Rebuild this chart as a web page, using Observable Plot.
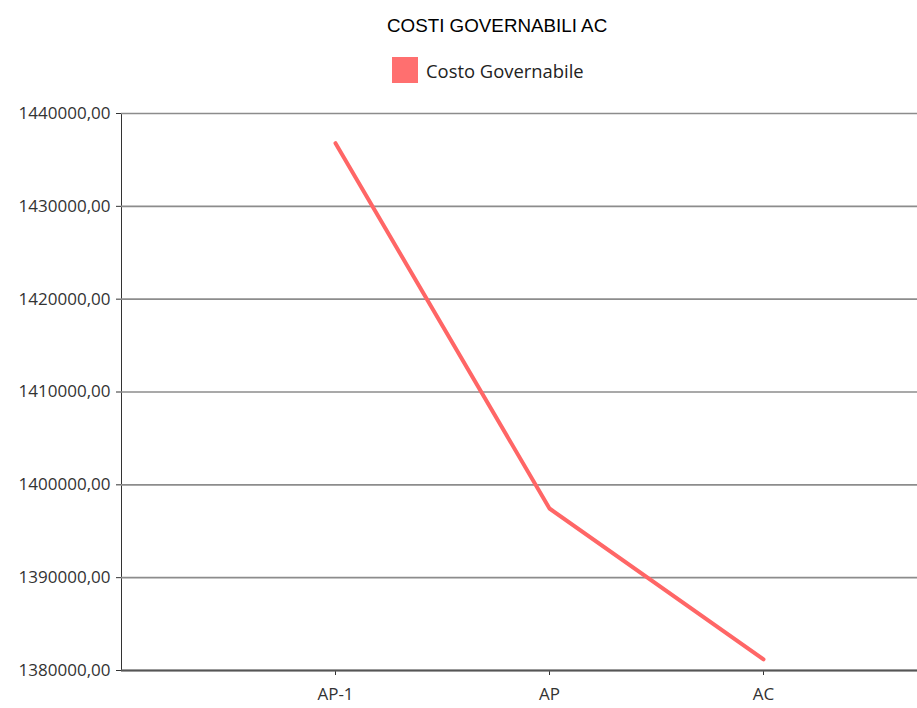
<!DOCTYPE html>
<html>
<head>
<meta charset="utf-8">
<script src="https://cdn.jsdelivr.net/npm/d3@7"></script>
<script src="https://cdn.jsdelivr.net/npm/@observablehq/plot@0.6"></script>
<style>
  html, body { margin: 0; padding: 0; background: #fff; }
  #wrap { width: 917px; }
  #head { position: relative; height: 100px; }
  #title { position: absolute; top: 15px; left: 387px; white-space: nowrap;
           font-family: "Liberation Sans", Arial, sans-serif; font-size: 18.8px; color: #000; }
  #legend { position: absolute; top: 57px; left: 392px; display: flex; align-items: center;
            font-family: "Open Sans", sans-serif; font-size: 18.4px; color: #222; }
  #legend .sw { width: 26px; height: 26px; background: #ff6f6f; margin-right: 8px; }
</style>
</head>
<body>
<div id="wrap">
  <div id="head">
    <div id="title"></div>
    <div id="legend"><div class="sw"></div><span id="legtext"></span></div>
  </div>
  <div id="chart"></div>
</div>
<script>
const title = "COSTI GOVERNABILI AC";
const seriesName = "Costo Governabile";
const categories = ["AP-1", "AP", "AC"];
const values = [1436800, 1397450, 1381200];
const yTicks = [1380000, 1390000, 1400000, 1410000, 1420000, 1430000, 1440000];

document.getElementById("title").textContent = title;
document.getElementById("legtext").textContent = seriesName;

const data = categories.map((c, i) => ({cat: c, value: values[i]}));
const fmt = d => d.toFixed(2).replace(".", ",");

const chart = Plot.plot({
  width: 917,
  height: 608,
  marginTop: 13,
  marginBottom: 38,
  marginLeft: 121,
  marginRight: 0,
  style: {fontFamily: "Open Sans, sans-serif", fontSize: "17px", color: "#333", background: "#fff"},
  x: {type: "point", domain: categories, range: [335, 763], padding: 0, label: null,
      tickSize: 5, tickPadding: 12, line: true},
  y: {domain: [1380000, 1440000], ticks: yTicks, tickFormat: fmt, label: null,
      tickSize: 5, tickPadding: 6, line: true},
  marks: [
    Plot.ruleY(yTicks, {stroke: "#8c8c8c", strokeWidth: 1.6}),
    Plot.ruleY([1380000], {stroke: "#555", strokeWidth: 2}),
    Plot.line(data, {x: "cat", y: "value", stroke: "#ff6666", strokeWidth: 4, strokeLinecap: "round", strokeLinejoin: "round"})
  ]
});
document.getElementById("chart").appendChild(chart);
</script>
</body>
</html>
